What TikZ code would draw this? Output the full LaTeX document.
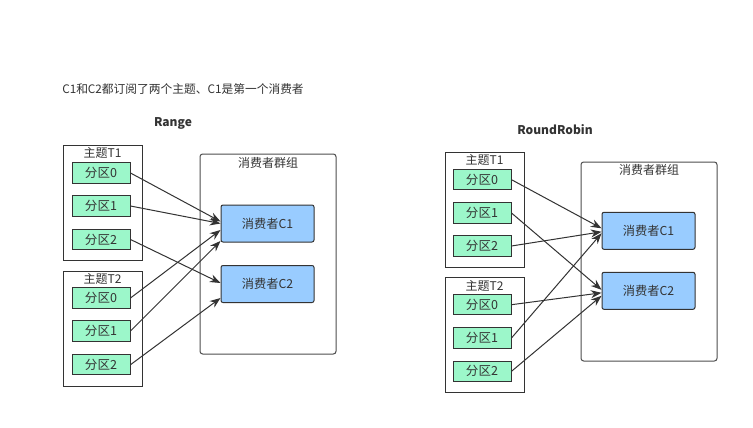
\documentclass[tikz,border=0pt]{standalone}
\usepackage{fontspec}
\setmainfont{Noto Sans CJK SC}
\usetikzlibrary{arrows.meta,calc}
\definecolor{partg}{HTML}{9CF7CA}
\definecolor{consb}{HTML}{99CCFF}
\definecolor{edge}{HTML}{333333}
\definecolor{gbox}{HTML}{4D4D4D}
\tikzset{
  topicbox/.style={draw=edge,line width=0.75pt,fill=white,minimum width=59.25pt,minimum height=86.25pt,inner sep=0pt},
  partbox/.style={draw=edge,line width=0.75pt,fill=partg,minimum width=43.5pt,minimum height=15.4pt,inner sep=0pt,font=\fontsize{9.4pt}{10pt}\selectfont,text=edge},
  groupbox/.style={draw=gbox,line width=0.75pt,rounded corners=2pt,fill=white,minimum width=102pt,minimum height=150pt,inner sep=0pt},
  consbox/.style={draw=edge,line width=0.75pt,rounded corners=1.5pt,fill=consb,minimum width=69.75pt,minimum height=27.75pt,inner sep=0pt,font=\fontsize{9.2pt}{11pt}\selectfont,text=edge},
  lbl/.style={font=\fontsize{9pt}{10pt}\selectfont,text=edge,inner sep=0pt},
  ttl/.style={font=\fontsize{9pt}{10pt}\selectfont\bfseries,text=edge,inner sep=0pt},
  conn/.style={draw=edge,line width=0.75pt,-{Stealth[length=8pt,width=6pt]}},
}
\begin{document}
\begin{tikzpicture}[x=0.75pt,y=-0.75pt]
\fill[white] (0,0) rectangle (753,428);
\useasboundingbox (0,0) rectangle (753,428);

\node[lbl,font=\fontsize{8.8pt}{10pt}\selectfont,anchor=west] (title) at (62,89) {C1和C2都订阅了两个主题、C1是第一个消费者};

% ---------- Range ----------
\node[ttl] (rangeT) at (173,123) {Range};
\node[topicbox] (LT1) at (102.5,202.5) {};
\node[lbl] (LT1l) at (102.5,153) {主题T1};
\node[partbox] (LA0) at (101,173) {分区0};
\node[partbox] (LA1) at (101,206) {分区1};
\node[partbox] (LA2) at (101,239.5) {分区2};
\node[topicbox] (LT2) at (102.5,328.5) {};
\node[lbl] (LT2l) at (102.5,278.5) {主题T2};
\node[partbox] (LB0) at (101,298) {分区0};
\node[partbox] (LB1) at (101,331) {分区1};
\node[partbox] (LB2) at (101,364.7) {分区2};
\node[groupbox] (LG) at (268,254) {};
\node[lbl] (LGl) at (268,163) {消费者群组};
\node[consbox] (LC1) at (267.5,223.5) {消费者C1};
\node[consbox] (LC2) at (267.5,284) {消费者C2};

\draw[conn] (LA0.east) -- ($(LC1.west)+(0,-2)$);
\draw[conn] (LA1.east) -- ($(LC1.west)+(0,0)$);
\draw[conn] (LA2.east) -- ($(LC2.west)+(0,-1)$);
\draw[conn] (LB0.east) -- ($(LC1.west)+(0,6.5)$);
\draw[conn] (LB1.east) -- ($(LC1.west)+(0,17.5)$);
\draw[conn] (LB2.east) -- ($(LC2.west)+(0,14)$);

% ---------- RoundRobin ----------
\node[ttl] (rrT) at (555,130) {RoundRobin};
\node[topicbox] (RT1) at (484.5,209.5) {};
\node[lbl] (RT1l) at (484.5,160) {主题T1};
\node[partbox] (RA0) at (482,179.7) {分区0};
\node[partbox] (RA1) at (482,213) {分区1};
\node[partbox] (RA2) at (482,246) {分区2};
\node[topicbox] (RT2) at (484.5,335) {};
\node[lbl] (RT2l) at (484.5,285.5) {主题T2};
\node[partbox] (RB0) at (482,304.7) {分区0};
\node[partbox] (RB1) at (482,338) {分区1};
\node[partbox] (RB2) at (482,371.3) {分区2};
\node[groupbox,minimum height=149.25pt] (RG) at (649,261.5) {};
\node[lbl] (RGl) at (649,170) {消费者群组};
\node[consbox] (RC1) at (648.5,230.8) {消费者C1};
\node[consbox] (RC2) at (648.5,290.8) {消费者C2};

\draw[conn] (RA0.east) -- ($(RC1.west)+(0,-2.5)$);
\draw[conn] (RA1.east) -- ($(RC2.west)+(0,-1)$);
\draw[conn] (RA2.east) -- ($(RC1.west)+(0,1)$);
\draw[conn] (RB0.east) -- ($(RC2.west)+(0,2)$);
\draw[conn] (RB1.east) -- ($(RC1.west)+(0,2.5)$);
\draw[conn] (RB2.east) -- ($(RC2.west)+(0,5)$);
\end{tikzpicture}
\end{document}
